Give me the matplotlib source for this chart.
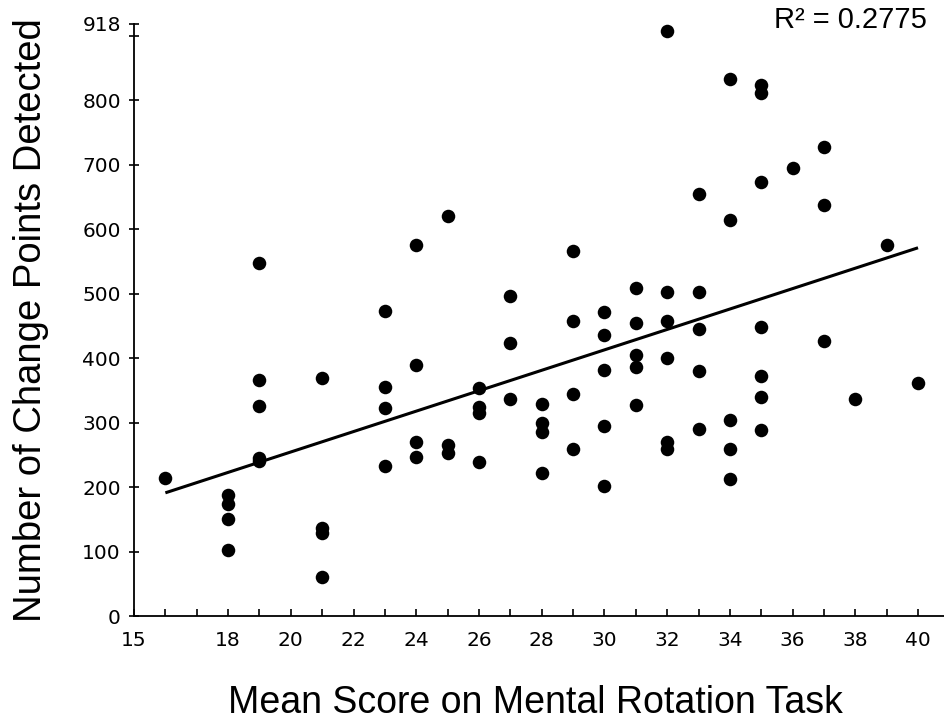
import matplotlib
matplotlib.use("Agg")
import matplotlib.pyplot as plt
import numpy as np

# Data
score = [16,
         18, 18, 18, 18,
         19, 19, 19, 19, 19,
         21, 21, 21, 21,
         23, 23, 23, 23,
         24, 24, 24, 24,
         25, 25, 25,
         26, 26, 26, 26,
         27, 27, 27,
         28, 28, 28, 28,
         29, 29, 29, 29,
         30, 30, 30, 30, 30,
         31, 31, 31, 31, 31,
         32, 32, 32, 32, 32, 32,
         33, 33, 33, 33, 33,
         34, 34, 34, 34, 34,
         35, 35, 35, 35, 35, 35, 35,
         36,
         37, 37, 37,
         38,
         39,
         40]
change_points = [214,
                 188, 174, 150, 102,
                 547, 366, 326, 245, 240,
                 369, 136, 129, 60,
                 473, 355, 322, 233,
                 575, 389, 270, 247,
                 620, 265, 253,
                 353, 324, 315, 239,
                 496, 423, 336,
                 329, 299, 285, 221,
                 566, 457, 344, 259,
                 471, 436, 381, 295, 202,
                 509, 455, 405, 386, 327,
                 907, 502, 457, 400, 270, 259,
                 654, 502, 445, 380, 290,
                 832, 614, 304, 259, 212,
                 823, 811, 673, 448, 372, 340, 288,
                 695,
                 727, 637, 427,
                 336,
                 576,
                 361]

# Trend line
fit_x = [16, 40]
fit_y = [191, 571]
r2_label = "R² = 0.2775"

x_ticks = list(range(15, 41))
x_labeled = [15, 18, 20, 22, 24, 26, 28, 30, 32, 34, 36, 38, 40]
y_ticks = [0, 100, 200, 300, 400, 500, 600, 700, 800, 900, 918]
y_labeled = [0, 100, 200, 300, 400, 500, 600, 700, 800, 918]

fig = plt.figure(figsize=(9.45, 7.23), dpi=100)
ax = fig.add_axes([134/945, 107/723, (945-134)/945, (616-24)/723])

ax.scatter(score, change_points, s=95, color="black", zorder=3, linewidths=0)
ax.plot(fit_x, fit_y, color="black", lw=2.2, zorder=2, solid_capstyle="butt")

ax.set_xlim(15, 40.86)
ax.set_ylim(0, 918)

ax.set_xticks(x_ticks)
ax.set_xticklabels([str(t) if t in x_labeled else "" for t in x_ticks])
ax.set_yticks(y_ticks)
ax.set_yticklabels([str(t) if t in y_labeled else "" for t in y_ticks])

for s in ["top", "right"]:
    ax.spines[s].set_visible(False)
for s in ["left", "bottom"]:
    ax.spines[s].set_linewidth(1.3)

ax.tick_params(axis="x", direction="in", length=5, width=1.2, pad=11,
               labelsize=14.5)
ax.tick_params(axis="y", direction="inout", length=7, width=1.2, pad=6,
               labelsize=14.5)
for lab in ax.get_xticklabels() + ax.get_yticklabels():
    lab.set_family("DejaVu Sans")

fig.text(535/945, 1 - 703/723, "Mean Score on Mental Rotation Task",
         ha="center", va="center", fontsize=27, family="Liberation Sans")
fig.text(31/945, 1 - 320/723, "Number of Change Points Detected",
         ha="center", va="center", rotation=90, fontsize=27.5,
         family="Liberation Sans")
fig.text(927/945, 1 - 20/723, r2_label, ha="right", va="center",
         fontsize=21, family="Liberation Sans")

fig.savefig("out.png", dpi=100)
